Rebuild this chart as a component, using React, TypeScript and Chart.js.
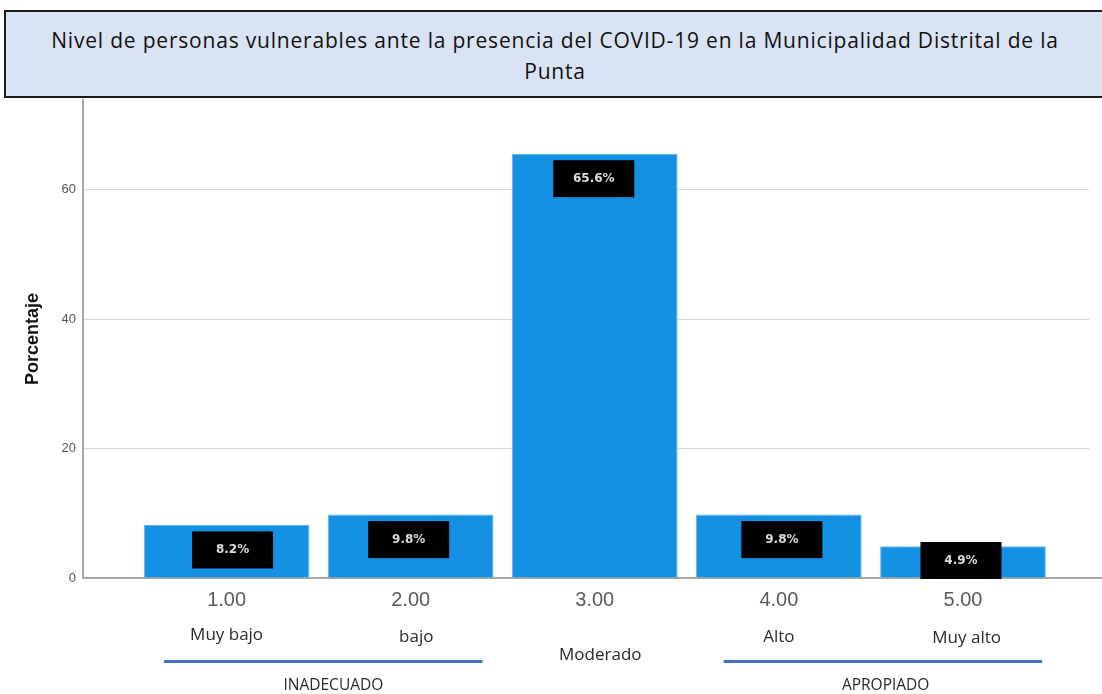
import React, { useEffect, useRef } from "react";
import { Chart, registerables } from "chart.js";

Chart.register(...registerables);

const titleLines = [
  "Nivel de personas vulnerables ante la presencia del COVID-19 en la Municipalidad Distrital de la",
  "Punta",
];
const categories = [1, 2, 3, 4, 5];
const percentages = [8.2, 9.8, 65.6, 9.8, 4.9];
const valueLabels = ["8.2%", "9.8%", "65.6%", "9.8%", "4.9%"];
const yTicks = [0, 20, 40, 60];
const levelNames = ["Muy bajo", "bajo", "Moderado", "Alto", "Muy alto"];
const groupNames = ["INADECUADO", "APROPIADO"];
const yAxisTitle = "Porcentaje";

export default function App() {
  const canvasRef = useRef<HTMLCanvasElement | null>(null);

  useEffect(() => {
    document.body.style.margin = "0";
    const canvas = canvasRef.current;
    if (!canvas) return;

    const levelPos = [
      { x: 1, y: 635 },
      { x: 2.03, y: 637 },
      { x: 3.03, y: 655 },
      { x: 4, y: 637 },
      { x: 5.02, y: 638 },
    ];
    const groupPos = [
      { from: 0.66, to: 2.39, labelX: 1.58 },
      { from: 3.7, to: 5.43, labelX: 4.58 },
    ];
    const labelShift = [6, -2, -1, 3, -2];

    const annotations = {
      id: "annotations",
      afterDatasetsDraw(chart: any) {
        const ctx = chart.ctx;
        const meta = chart.getDatasetMeta(0);
        const base = chart.chartArea.bottom;
        ctx.save();
        meta.data.forEach((bar: any, i: number) => {
          const w = 81;
          const h = 37;
          const cx = bar.x + labelShift[i];
          let cy = bar.y + 25;
          if (cy + h / 2 > base + 1) cy = base + 1 - h / 2;
          ctx.fillStyle = "#000";
          ctx.fillRect(cx - w / 2, cy - h / 2, w, h);
          ctx.fillStyle = "#dcdcdc";
          ctx.font = "bold 12px 'DejaVu Sans'";
          ctx.textAlign = "center";
          ctx.textBaseline = "middle";
          ctx.fillText(valueLabels[i], cx, cy);
        });
        ctx.restore();
      },
      afterDraw(chart: any) {
        const ctx = chart.ctx;
        const xs = chart.scales.x;
        const base = chart.chartArea.bottom;
        ctx.save();
        ctx.strokeStyle = "#a6a6a6";
        ctx.lineWidth = 2;
        ctx.beginPath();
        ctx.moveTo(chart.chartArea.right, base);
        ctx.lineTo(chart.width, base);
        ctx.stroke();

        ctx.fillStyle = "#2a2a2a";
        ctx.font = "17px 'Open Sans'";
        ctx.textAlign = "center";
        ctx.textBaseline = "middle";
        levelNames.forEach((n, i) => {
          ctx.fillText(n, xs.getPixelForValue(levelPos[i].x), levelPos[i].y);
        });

        groupNames.forEach((g, i) => {
          const p = groupPos[i];
          ctx.strokeStyle = "#4472c4";
          ctx.lineWidth = 3;
          ctx.beginPath();
          ctx.moveTo(xs.getPixelForValue(p.from), 661.5);
          ctx.lineTo(xs.getPixelForValue(p.to), 661.5);
          ctx.stroke();
          ctx.fillStyle = "#2a2a2a";
          ctx.font = "15.5px 'Open Sans'";
          ctx.fillText(g, xs.getPixelForValue(p.labelX), 686);
        });
        ctx.restore();
      },
    };

    const chart = new Chart(canvas, {
      type: "bar",
      data: {
        datasets: [
          {
            data: categories.map((c, i) => ({ x: c, y: percentages[i] })),
            backgroundColor: "#1591e3",
            borderColor: "#62b4ee",
            borderWidth: 1,
            barPercentage: 0.9,
            categoryPercentage: 1,
          },
        ],
      },
      options: {
        responsive: false,
        animation: false,
        layout: { padding: { left: 0, top: 100, right: 12, bottom: 0 } },
        plugins: {
          legend: { display: false },
          tooltip: { enabled: false },
          title: { display: false },
        },
        scales: {
          x: {
            type: "linear",
            offset: false,
            min: 0.22,
            max: 5.69,
            afterBuildTicks: (axis: any) => {
              axis.ticks = categories.map((v) => ({ value: v }));
            },
            afterFit: (axis: any) => {
              axis.height = 116;
            },
            ticks: {
              callback: (v: any) => Number(v).toFixed(2),
              color: "#5a5a5a",
              font: { family: "'Liberation Sans'", size: 20 },
              padding: 10,
              maxRotation: 0,
              autoSkip: false,
            },
            grid: { display: false, drawTicks: false },
            border: { color: "#a6a6a6", width: 2 },
          },
          y: {
            min: 0,
            max: 73.9,
            afterBuildTicks: (axis: any) => {
              axis.ticks = yTicks.map((v) => ({ value: v }));
            },
            afterFit: (axis: any) => {
              axis.width = 83;
            },
            ticks: {
              color: "#555",
              font: { family: "'Liberation Sans'", size: 13 },
              padding: 7,
            },
            grid: { color: "#d9d9d9", lineWidth: 1, drawTicks: false },
            border: { color: "#a6a6a6", width: 2 },
            title: {
              display: true,
              text: yAxisTitle,
              color: "#111",
              font: { family: "'Liberation Sans'", size: 18, weight: "bold" },
              padding: { top: 22, bottom: 0 },
            },
          },
        },
      },
      plugins: [annotations],
    });

    return () => chart.destroy();
  }, []);

  return (
    <div style={{ position: "relative", width: 1102, height: 694, overflow: "hidden", background: "#fff" }}>
      <canvas ref={canvasRef} width={1102} height={694} style={{ position: "absolute", left: 0, top: 0, width: 1102, height: 694 }} />
      <div
        style={{
          position: "absolute",
          left: 4,
          top: 10,
          width: 1102,
          height: 88,
          boxSizing: "border-box",
          border: "2px solid #1a1a1a",
          background: "#dae3f3",
          fontFamily: "'Open Sans'",
          fontSize: 21,
          letterSpacing: "0.8px",
          lineHeight: "31px",
          color: "#111",
          textAlign: "center",
          paddingTop: 13,
        }}
      >
        {titleLines.map((l, i) => (
          <div key={i}>{l}</div>
        ))}
      </div>
    </div>
  );
}
